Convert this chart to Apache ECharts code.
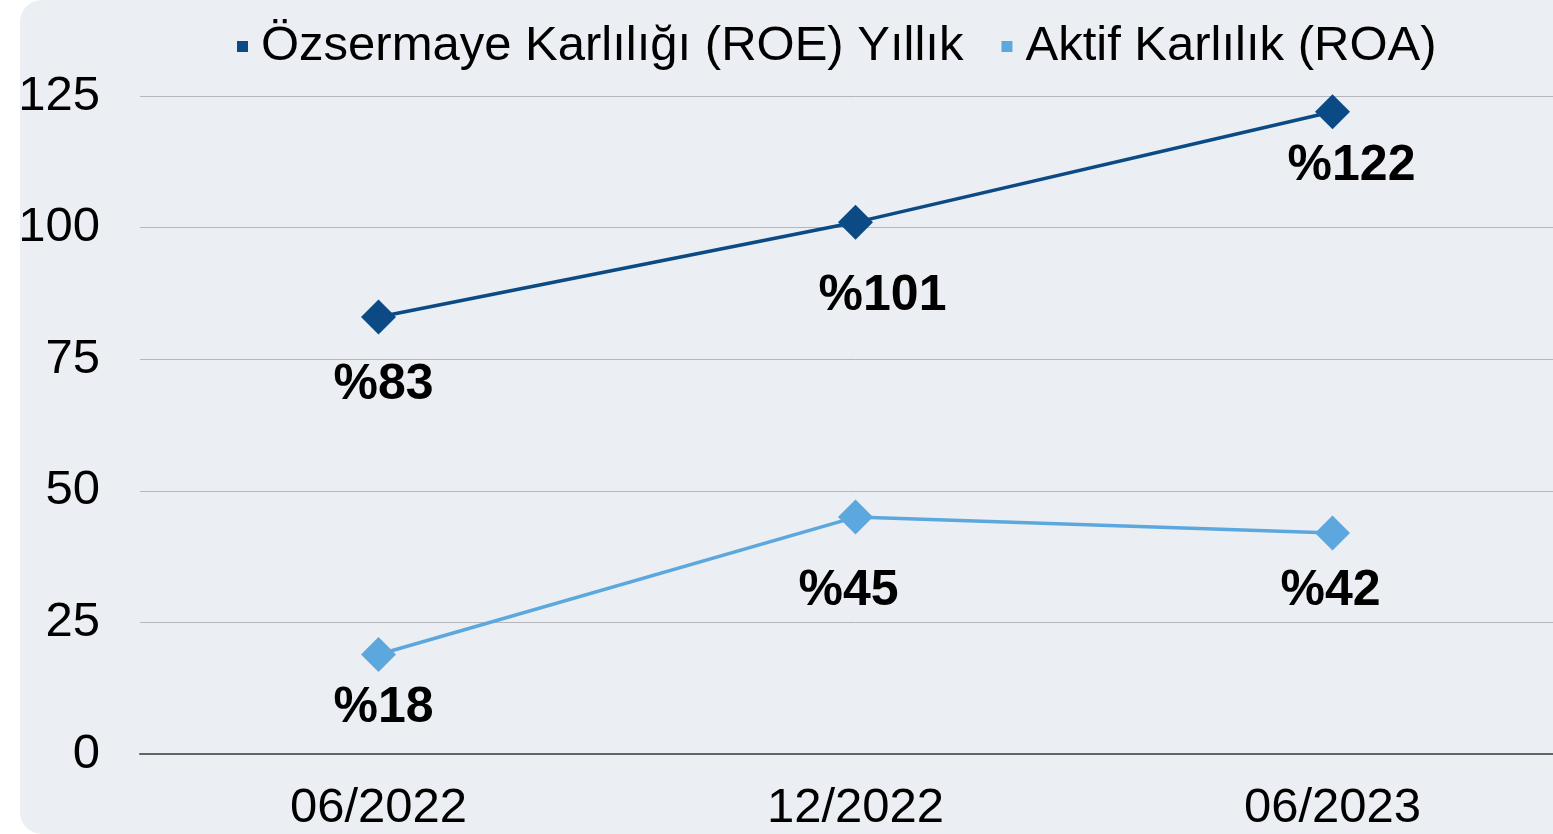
<!DOCTYPE html>
<html>
<head>
<meta charset="utf-8">
<script src="https://cdn.jsdelivr.net/npm/echarts@6/dist/echarts.min.js"></script>
<style>
    html, body { margin: 0; padding: 0; background: #ffffff; overflow: hidden; }
    #main {
        position: absolute;
        left: 20px;
        top: 0;
        width: 1580px;
        height: 834px;
        background: #ebeef2;
        border-radius: 22px;
    }
</style>
</head>
<body>
<div id="main"></div>
<script>
    var periods = ['06/2022', '12/2022', '06/2023'];
    var roeName = 'Özsermaye Karlılığı (ROE) Yıllık';
    var roaName = 'Aktif Karlılık (ROA)';
    var roeValues = [83, 101, 122];
    var roaValues = [18.9, 45, 42];
    var yTicks = [0, 25, 50, 75, 100, 125];

    // label offsets from each marker (centre of the text)
    var roeLabelOffsets = [[5, 68], [27, 74], [19, 54]];
    var roaLabelOffsets = [[5, 54], [-7, 74], [-2, 58]];

    function withLabels(values, offsets) {
        return values.map(function (v, i) {
            return { value: v, label: { offset: offsets[i] } };
        });
    }

    var font = '"Liberation Sans", Arial, sans-serif';
    var dom = document.getElementById('main');
    var myChart = echarts.init(dom, null, { renderer: 'canvas' });

    var labelStyle = {
        show: true,
        position: 'inside',
        fontFamily: font,
        fontSize: 50,
        fontWeight: 'bold',
        color: '#000',
        formatter: function (p) { return '%' + Math.floor(p.value); }
    };

    var option = {
        backgroundColor: 'transparent',
        animation: false,
        legend: {
            top: 17,
            left: 212,
            itemWidth: 11,
            itemHeight: 11,
            itemGap: 38,
            icon: 'rect',
            textStyle: { fontFamily: font, fontSize: 49, color: '#000', padding: [0, 0, 0, 8] },
            data: [roeName, roaName]
        },
        grid: { left: 120, right: 29, top: 96, bottom: 80, containLabel: false, outerBoundsMode: 'none' },
        xAxis: {
            type: 'category',
            data: periods,
            boundaryGap: true,
            axisTick: { show: false },
            axisLine: { lineStyle: { color: '#646464', width: 2 } },
            axisLabel: { fontFamily: font, fontSize: 49, color: '#000', margin: 30 }
        },
        yAxis: {
            type: 'value',
            min: yTicks[0],
            max: yTicks[yTicks.length - 1],
            interval: 25,
            axisLine: { show: false },
            axisTick: { show: false },
            splitLine: { lineStyle: { color: '#b4b6b9', width: 1 } },
            axisLabel: { fontFamily: font, fontSize: 49, color: '#000', margin: 40 }
        },
        series: [{
            name: roeName,
            type: 'line',
            data: withLabels(roeValues, roeLabelOffsets),
            symbol: 'diamond',
            symbolSize: 35,
            itemStyle: { color: '#0b4a85' },
            lineStyle: { width: 3.5, color: '#0b4a85' },
            label: labelStyle
        }, {
            name: roaName,
            type: 'line',
            data: withLabels(roaValues, roaLabelOffsets),
            symbol: 'diamond',
            symbolSize: 35,
            itemStyle: { color: '#5ca8de' },
            lineStyle: { width: 3.5, color: '#5ca8de' },
            label: labelStyle
        }]
    };
    myChart.setOption(option);
    window.addEventListener('resize', myChart.resize);
</script>
</body>
</html>
